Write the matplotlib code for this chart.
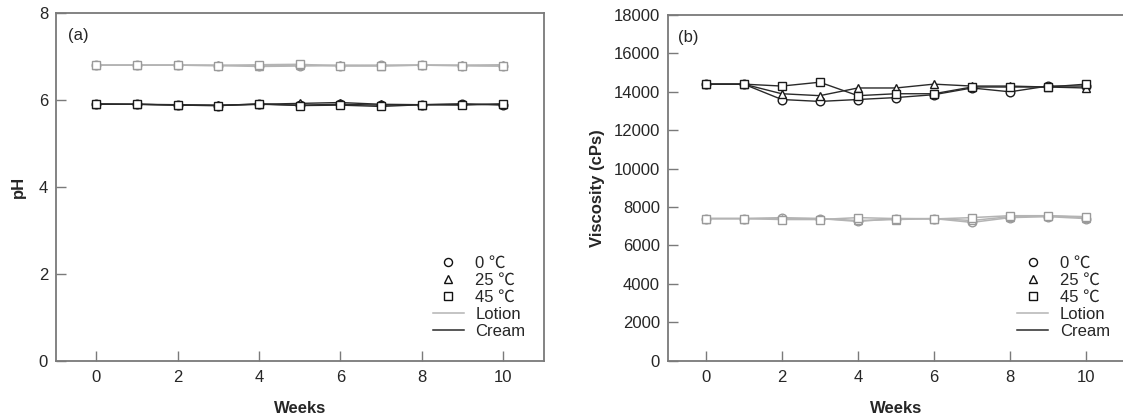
import matplotlib
matplotlib.use("Agg")
import matplotlib.pyplot as plt
from matplotlib.lines import Line2D

plt.rcParams['font.family'] = ['Liberation Sans', 'Noto Sans CJK SC', 'DejaVu Sans']

weeks = list(range(11))

# pH of lotion and cream stored at three temperatures
ph_lotion_0 = [6.80, 6.80, 6.80, 6.79, 6.77, 6.78, 6.79, 6.80, 6.80, 6.79, 6.78]
ph_lotion_25 = [6.80, 6.80, 6.80, 6.80, 6.79, 6.80, 6.80, 6.79, 6.80, 6.80, 6.81]
ph_lotion_45 = [6.80, 6.80, 6.80, 6.79, 6.81, 6.82, 6.78, 6.78, 6.80, 6.79, 6.78]
ph_cream_0 = [5.90, 5.90, 5.88, 5.87, 5.90, 5.88, 5.90, 5.88, 5.89, 5.91, 5.88]
ph_cream_25 = [5.91, 5.90, 5.89, 5.88, 5.90, 5.92, 5.94, 5.90, 5.89, 5.90, 5.90]
ph_cream_45 = [5.90, 5.90, 5.88, 5.87, 5.91, 5.87, 5.88, 5.85, 5.89, 5.88, 5.91]

# Viscosity (cPs)
vis_lotion_0 = [7400, 7400, 7450, 7400, 7250, 7400, 7400, 7200, 7450, 7500, 7400]
vis_lotion_25 = [7400, 7400, 7400, 7400, 7300, 7350, 7400, 7300, 7500, 7550, 7450]
vis_lotion_45 = [7400, 7400, 7350, 7350, 7450, 7400, 7380, 7450, 7550, 7550, 7500]
vis_cream_0 = [14400, 14400, 13600, 13500, 13600, 13700, 13850, 14200, 14000, 14300, 14300]
vis_cream_25 = [14400, 14400, 13900, 13800, 14200, 14200, 14400, 14300, 14300, 14250, 14200]
vis_cream_45 = [14400, 14400, 14300, 14500, 13800, 13900, 13900, 14250, 14250, 14250, 14400]

temp_labels = ['0 \u2103', '25 \u2103', '45 \u2103']
product_labels = ['Lotion', 'Cream']
markers = ['o', '^', 's']

LOTION_LINE = '#b4b4b4'
LOTION_EDGE = '#9a9a9a'
CREAM_LINE = '#2a2a2a'
CREAM_EDGE = '#1a1a1a'
SPINE = '#7a7a7a'
TEXT = '#262626'
FS = 12

fig = plt.figure(figsize=(11.23, 4.18), dpi=100)
ax1 = fig.add_axes([55.7 / 1123, 57.3 / 418, 488 / 1123, 347.7 / 418])
ax2 = fig.add_axes([667.7 / 1123, 57.3 / 418, 456.3 / 1123, 345.7 / 418])


def draw(ax, lotion, cream):
    for series, m in zip(lotion, markers):
        ax.plot(weeks, series, color=LOTION_LINE, lw=1.1, marker=m, ms=6.2,
                mfc='white', mec=LOTION_EDGE, mew=1.0, zorder=3)
    for series, m in zip(cream, markers):
        ax.plot(weeks, series, color=CREAM_LINE, lw=1.0, marker=m, ms=6.2,
                mfc='white', mec=CREAM_EDGE, mew=1.0, zorder=4)


def style(ax):
    ax.set_xlim(-1, 11)
    ax.set_xticks(range(0, 11, 2))
    for s in ax.spines.values():
        s.set_color(SPINE)
        s.set_linewidth(1.3)
    ax.tick_params(direction='in', length=7, width=1.0, color=SPINE,
                   labelsize=FS, labelcolor=TEXT)
    ax.tick_params(axis='x', pad=6.5)
    ax.tick_params(axis='y', pad=5.5)
    ax.set_xlabel('Weeks', fontsize=FS, fontweight='bold', color=TEXT, va='center')
    ax.xaxis.set_label_coords(0.5, -0.138, transform=ax.transAxes)


def legend(ax, anchor):
    handles = [Line2D([], [], ls='none', marker=m, ms=5.8, mfc='white',
                      mec='#111111', mew=1.0) for m in markers]
    handles += [Line2D([], [], color=LOTION_LINE, lw=1.1),
                Line2D([], [], color=CREAM_LINE, lw=1.1)]
    ax.legend(handles, temp_labels + product_labels, loc='upper left',
              bbox_to_anchor=anchor, frameon=False, fontsize=FS,
              handlelength=1.85, handletextpad=0.7, labelspacing=0.12,
              borderpad=0, borderaxespad=0, labelcolor=TEXT)


draw(ax1, [ph_lotion_0, ph_lotion_25, ph_lotion_45],
     [ph_cream_0, ph_cream_25, ph_cream_45])
style(ax1)
ax1.set_ylim(0, 8)
ax1.set_yticks(range(0, 9, 2))
ax1.set_ylabel('pH', fontsize=FS, fontweight='bold', color=TEXT, va='center')
ax1.yaxis.set_label_coords(-0.077, 0.5, transform=ax1.transAxes)
ax1.text(0.025, 0.934, '(a)', transform=ax1.transAxes, fontsize=FS,
         color=TEXT, va='center', ha='left')
legend(ax1, (0.773, 0.302))

draw(ax2, [vis_lotion_0, vis_lotion_25, vis_lotion_45],
     [vis_cream_0, vis_cream_25, vis_cream_45])
style(ax2)
ax2.set_ylim(0, 18000)
ax2.set_yticks(range(0, 18001, 2000))
ax2.set_ylabel('Viscosity (cPs)', fontsize=FS, fontweight='bold', color=TEXT, va='center')
ax2.yaxis.set_label_coords(-0.153, 0.5, transform=ax2.transAxes)
ax2.text(0.023, 0.934, '(b)', transform=ax2.transAxes, fontsize=FS,
         color=TEXT, va='center', ha='left')
legend(ax2, (0.766, 0.304))

fig.savefig('out.png', dpi=100)
